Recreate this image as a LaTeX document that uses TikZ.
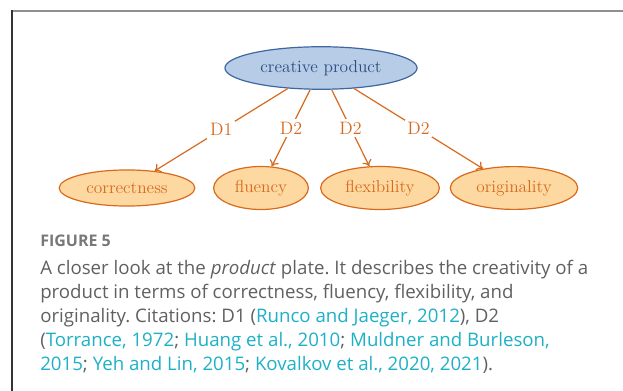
\documentclass[tikz,border=0pt]{standalone}
\usepackage{fontspec}
\setsansfont{Open Sans}
\usepackage{xcolor}
\usetikzlibrary{shapes.geometric,arrows.meta}

\definecolor{plateblue}{HTML}{B7CCE6}
\definecolor{plateblueline}{HTML}{3F66A0}
\definecolor{plateblueText}{HTML}{2E4C80}
\definecolor{plateorange}{HTML}{FDD8A0}
\definecolor{plateorangeline}{HTML}{D86A1E}
\definecolor{framegray}{HTML}{8F8F8F}
\definecolor{framedark}{HTML}{333333}
\definecolor{captiongray}{HTML}{606060}
\definecolor{citecyan}{HTML}{1DB0C6}

\newcommand{\refcite}[1]{\textcolor{citecyan}{#1}}

\tikzset{
  plate/.style={ellipse, inner sep=5.5pt, line width=0.9pt,
    font=\fontsize{13}{15}\selectfont},
  topplate/.style={plate, draw=plateblueline, fill=plateblue, text=plateblueText},
  leafplate/.style={plate, draw=plateorangeline, fill=plateorange, text=plateorangeline},
  dlabel/.style={fill=white, inner sep=2pt, text=plateorangeline,
    font=\fontsize{13.5}{15}\selectfont},
  edge/.style={-{To[length=4.5pt,width=7.5pt]}, draw=plateorangeline, line width=0.9pt},
  capline/.style={anchor=base west, inner sep=0pt, text=captiongray,
    font=\sffamily\fontsize{14}{18}\selectfont\frenchspacing},
}

\begin{document}
\begin{tikzpicture}[x=0.75pt,y=-0.75pt]
\useasboundingbox (0,0) rectangle (623,391);

% frame
\draw[framegray, line width=1.5pt] (12,11) -- (623,11);
\draw[framedark, line width=1.5pt] (12,10.25) -- (12,391);

% plate
\node[topplate] (product) at (321,68) {creative product};
\node[leafplate] (correct) at (127,188) {correctness};
\node[leafplate] (fluency) at (261,188) {fluency};
\node[leafplate] (flex) at (380,188) {flexibility};
\node[leafplate] (orig) at (514,188) {originality};

\draw[edge] (product) -- node[dlabel] {D1} (correct);
\draw[edge] (product) -- node[dlabel] {D2} (fluency);
\draw[edge] (product) -- node[dlabel] {D2} (flex);
\draw[edge] (product) -- node[dlabel] {D2} (orig);

% caption
\node[capline, font=\sffamily\bfseries\fontsize{12}{14}\selectfont, text=captiongray!85] (figlabel) at (40,247) {FIGURE 5};
\node[capline] (capA) at (40,274) {A closer look at the \textit{product} plate. It describes the creativity of a};
\node[capline] (capB) at (40,298) {product in terms of correctness, fluency, flexibility, and};
\node[capline] (capC) at (40,322) {originality. Citations: D1 (\refcite{Runco and Jaeger, 2012}), D2};
\node[capline] (capD) at (40,346) {(\refcite{Torrance, 1972}; \refcite{Huang et al., 2010}; \refcite{Muldner and Burleson,}};
\node[capline] (capE) at (40,370) {\refcite{2015}; \refcite{Yeh and Lin, 2015}; \refcite{Kovalkov et al., 2020, 2021}).};
\end{tikzpicture}
\end{document}
